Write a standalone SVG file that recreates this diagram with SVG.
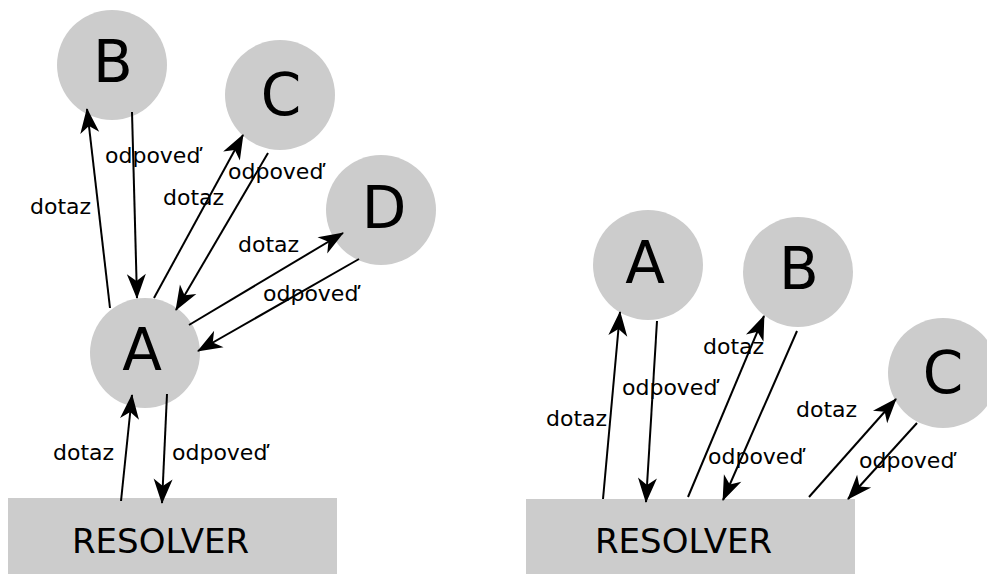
<svg xmlns="http://www.w3.org/2000/svg" width="987" height="574" viewBox="0 0 987 574">
<defs>
<marker id="ah" markerUnits="userSpaceOnUse" markerWidth="30" markerHeight="24" viewBox="-26 -12 30 24" refX="0" refY="0" orient="auto">
<path d="M1,0 L-24,-9.5 L-17,0 L-24,9.5 Z" fill="#000"/>
</marker>
</defs>
<style>
.n{fill:#cccccc}
.big{font-family:"DejaVu Sans",sans-serif;font-size:58px;fill:#000;text-anchor:middle}
.res{font-family:"DejaVu Sans",sans-serif;font-size:34px;fill:#000}
.lb{font-family:"DejaVu Sans",sans-serif;font-size:22px;fill:#000}
.c line{stroke:#000;stroke-width:2;marker-end:url(#ah)}
</style>
<rect width="987" height="574" fill="#fff"/>
<g id="L-resolver"><rect class="n" x="8" y="498" width="329" height="80"/><text class="res" x="72" y="553">RESOLVER</text></g>
<g id="L-A"><circle class="n" cx="145" cy="353" r="55"/><text class="big" x="142" y="370">A</text></g>
<g id="L-B"><circle class="n" cx="112" cy="65" r="55"/><text class="big" x="113" y="82">B</text></g>
<g id="L-C"><circle class="n" cx="280" cy="95" r="55"/><text class="big" x="281" y="115">C</text></g>
<g id="L-D"><circle class="n" cx="381" cy="210" r="55"/><text class="big" x="384" y="228">D</text></g>
<g id="R-resolver"><rect class="n" x="526" y="499" width="329" height="80"/><text class="res" x="595" y="553">RESOLVER</text></g>
<g id="R-A"><circle class="n" cx="648" cy="265" r="55"/><text class="big" x="645" y="283">A</text></g>
<g id="R-B"><circle class="n" cx="798" cy="272" r="55"/><text class="big" x="799" y="289">B</text></g>
<g id="R-C"><circle class="n" cx="943" cy="373" r="55"/><text class="big" x="943" y="393">C</text></g>
<g id="connectors" class="c">
<line x1="110" y1="308" x2="87" y2="109"/>
<line x1="132" y1="112" x2="137" y2="298"/>
<line x1="154" y1="298" x2="243" y2="135"/>
<line x1="268" y1="153" x2="176" y2="310"/>
<line x1="189" y1="325" x2="343" y2="233"/>
<line x1="359" y1="259" x2="198" y2="351"/>
<line x1="121" y1="501" x2="132" y2="395"/>
<line x1="167" y1="394" x2="162" y2="503"/>
<line x1="603" y1="499" x2="620" y2="312"/>
<line x1="657" y1="321" x2="646" y2="502"/>
<line x1="688" y1="497" x2="764" y2="316"/>
<line x1="797" y1="331" x2="723" y2="500"/>
<line x1="809" y1="497" x2="896" y2="399"/>
<line x1="917" y1="423" x2="848" y2="499"/>
</g>
<g id="labels">
<text class="lb" x="30" y="214">dotaz</text>
<text class="lb" x="105" y="163">odpoveď</text>
<text class="lb" x="163" y="205">dotaz</text>
<text class="lb" x="228" y="179">odpoveď</text>
<text class="lb" x="238" y="252">dotaz</text>
<text class="lb" x="263" y="301">odpoveď</text>
<text class="lb" x="53" y="460">dotaz</text>
<text class="lb" x="172" y="460">odpoveď</text>
<text class="lb" x="546" y="426">dotaz</text>
<text class="lb" x="622" y="395">odpoveď</text>
<text class="lb" x="703" y="354">dotaz</text>
<text class="lb" x="708" y="464">odpoveď</text>
<text class="lb" x="796" y="417">dotaz</text>
<text class="lb" x="859" y="468">odpoveď</text>
</g>
</svg>
